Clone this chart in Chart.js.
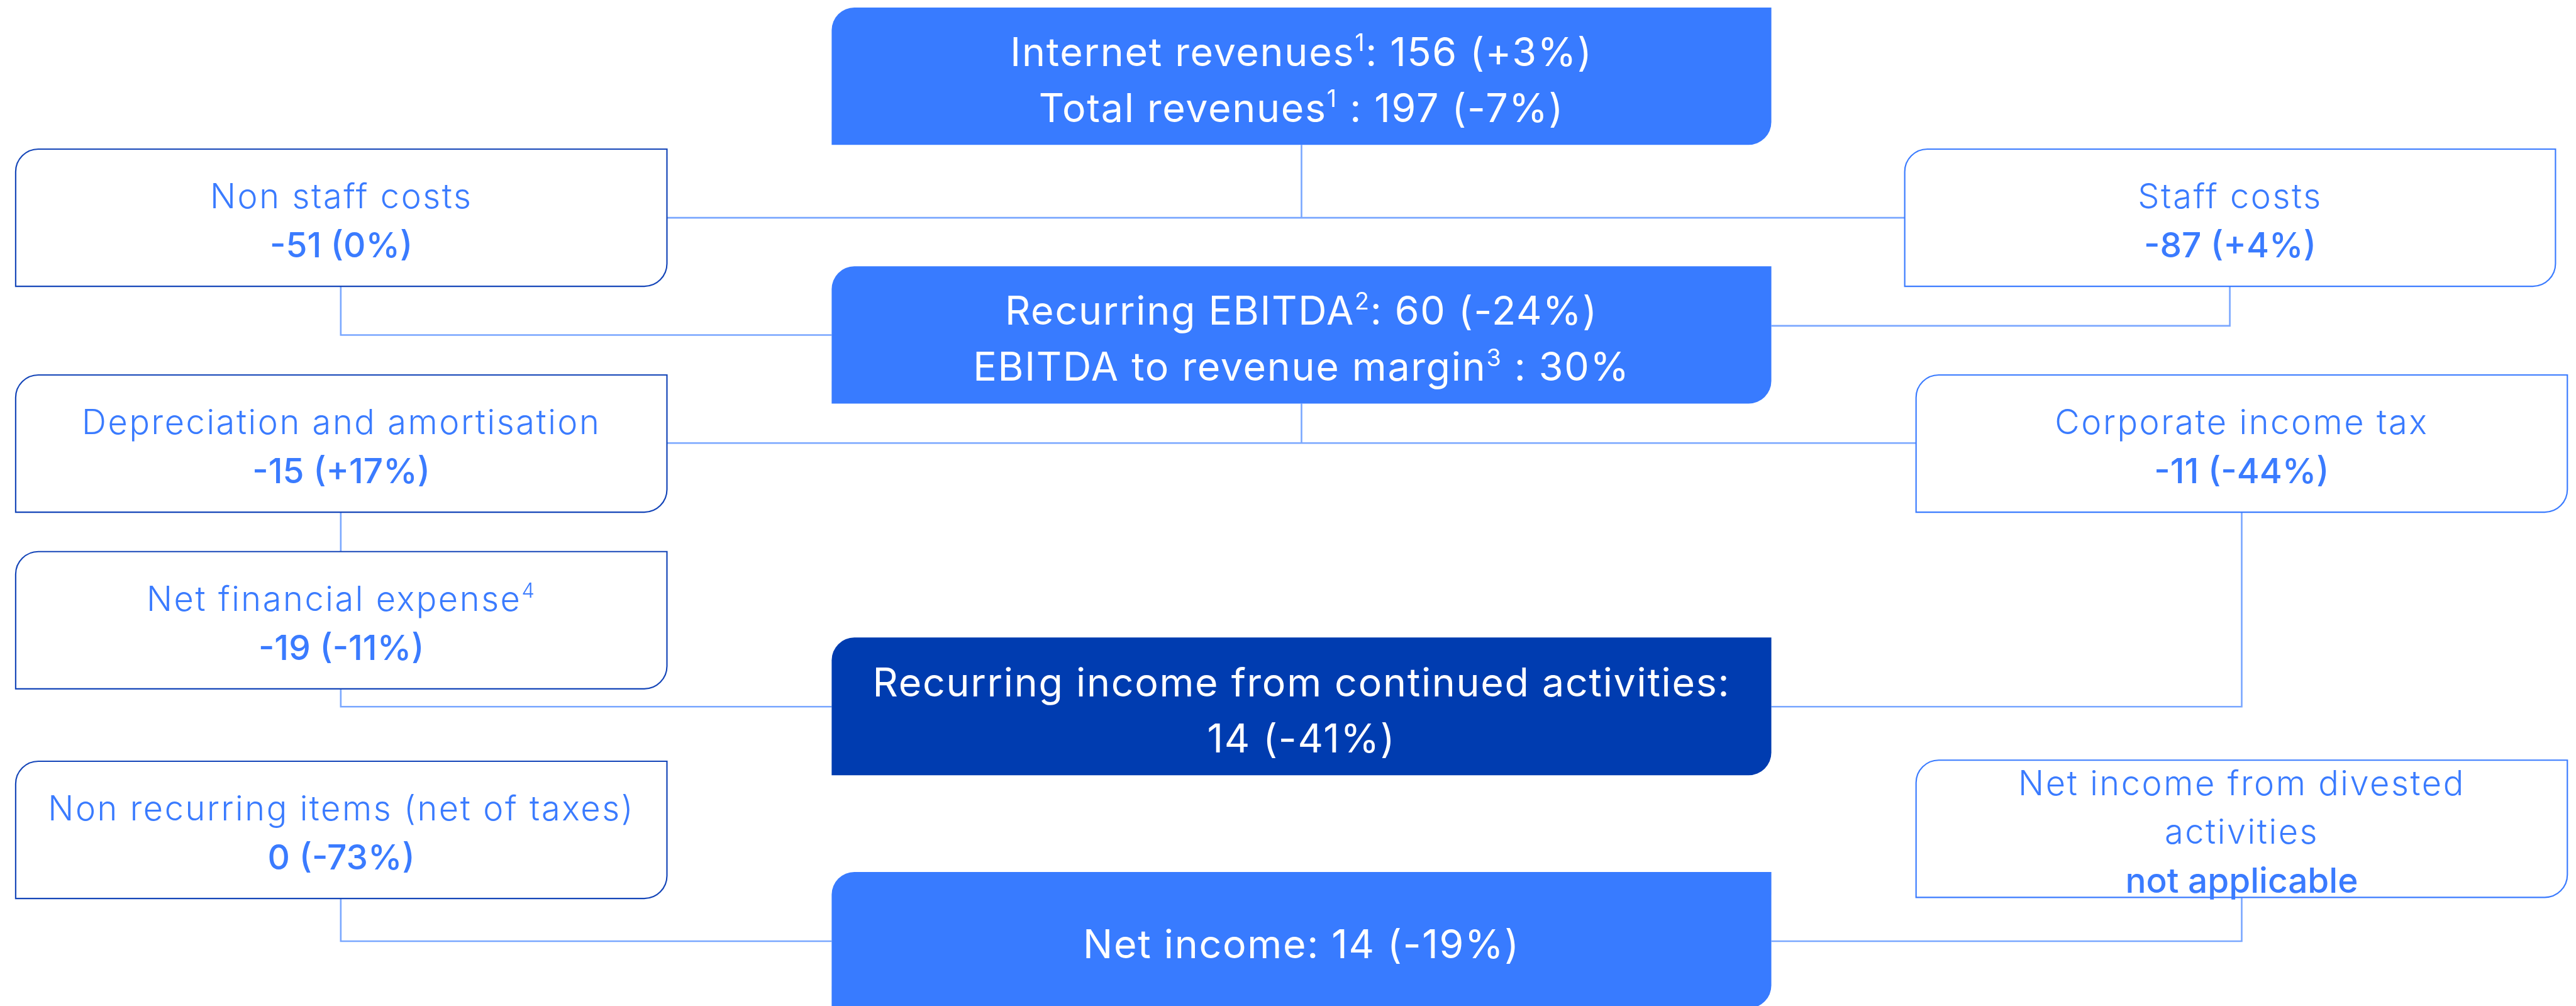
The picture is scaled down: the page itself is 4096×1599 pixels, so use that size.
<html>
<head>
  <title>Income flow</title>
  <script src="https://cdn.jsdelivr.net/npm/chart.js"></script>
  <style>
    body { margin: 0; background: #fff; }
    #wrap { width: 4096px; height: 1599px; position: relative; }
  </style>
</head>
<body>
  <div id="wrap"><canvas id="Chart"></canvas></div>
  <script>
// values (^n = superscript note)
const keyLines = [
  ['Internet revenues^1: 156 (+3%)', 'Total revenues^1 : 197 (-7%)'],
  ['Recurring EBITDA^2: 60 (-24%)', 'EBITDA to revenue margin^3 : 30%'],
  ['Recurring income from continued activities:', '14 (-41%)'],
  ['Net income: 14 (-19%)']
];
const itemLabels = [
  ['Non staff costs'], ['Staff costs'], ['Depreciation and amortisation'],
  ['Corporate income tax'], ['Net financial expense^4'],
  ['Non recurring items (net of taxes)'], ['Net income from divested', 'activities']
];
const itemValues = ['-51 (0%)', '-87 (+4%)', '-15 (+17%)', '-11 (-44%)', '-19 (-11%)', '0 (-73%)', 'not applicable'];

// layout, in reference units (4770 x 1862)
const keyBoxes = [[1540, 14, 3280, 268], [1540, 493, 3280, 747], [1540, 1180, 3280, 1435], [1540, 1614, 3280, 1866]];
const keyFills = ['#387bff', '#387bff', '#003cb0', '#387bff'];
const itemBoxes = [
  [29, 276, 1235, 530], [3527, 276, 4732, 530], [29, 694, 1235, 948], [3548, 694, 4754, 948],
  [29, 1021, 1235, 1275], [29, 1409, 1235, 1663], [3548, 1407, 4754, 1661]
];
const itemBorders = ['#1445b8', '#3a7bff', '#1445b8', '#3a7bff', '#1445b8', '#1445b8', '#3a7bff'];
const links = [
  [[1235, 403], [3527, 403]],
  [[2410, 268], [2410, 403]],
  [[631, 530], [631, 620], [1540, 620]],
  [[4129, 530], [4129, 603], [3280, 603]],
  [[2410, 747], [2410, 820]],
  [[1235, 820], [3548, 820]],
  [[631, 948], [631, 1021]],
  [[631, 1275], [631, 1308], [1540, 1308]],
  [[4151, 948], [4151, 1308], [3280, 1308]],
  [[631, 1663], [631, 1742], [1540, 1742]],
  [[4151, 1661], [4151, 1742], [3280, 1742]]
];

const FONT = 'Inter, "Open Sans", sans-serif';

function drawRich(ctx, text, cx, y, size, weight, color, spacing) {
  const parts = text.split(/\^(\d)/);
  const seg = parts.map((t, i) => ({ t, sup: i % 2 === 1 }));
  ctx.letterSpacing = spacing + 'px';
  let total = 0;
  seg.forEach(s => {
    ctx.font = `${weight} ${s.sup ? size * 0.6 : size}px ${FONT}`;
    s.w = ctx.measureText(s.t).width;
    total += s.w;
  });
  let x = cx - total / 2;
  ctx.fillStyle = color;
  ctx.textAlign = 'left';
  ctx.textBaseline = 'alphabetic';
  seg.forEach(s => {
    ctx.font = `${weight} ${s.sup ? size * 0.6 : size}px ${FONT}`;
    ctx.fillText(s.t, x, s.sup ? y - size * 0.38 : y);
    x += s.w;
  });
  ctx.letterSpacing = '0px';
}

const boxPlugin = {
  id: 'boxes',
  afterDatasetsDraw(chart) {
    const ctx = chart.ctx, xs = chart.scales.x, ys = chart.scales.y;
    const k = chart.chartArea.width / 4770;
    const rect = (b, r) => {
      const x1 = xs.getPixelForValue(b[0]), y1 = ys.getPixelForValue(b[1]);
      const x2 = xs.getPixelForValue(b[2]), y2 = ys.getPixelForValue(b[3]);
      ctx.beginPath();
      ctx.roundRect(x1, y1, x2 - x1, y2 - y1, [r, 0, r, 0]);
      return { cx: (x1 + x2) / 2, cy: (y1 + y2) / 2 };
    };
    ctx.save();
    keyBoxes.forEach((b, i) => {
      const c = rect(b, 42 * k);
      ctx.fillStyle = keyFills[i];
      ctx.fill();
      const lines = keyLines[i], size = 73 * k, lh = 104 * k;
      lines.forEach((t, j) => {
        const y = c.cy + 33 * k + (j - (lines.length - 1) / 2) * lh;
        drawRich(ctx, t, c.cx, y, size, 400, '#fff', 2 * k);
      });
    });
    itemBoxes.forEach((b, i) => {
      const c = rect(b, 42 * k);
      ctx.fillStyle = '#fff';
      ctx.fill();
      ctx.lineWidth = 2.5 * k;
      ctx.strokeStyle = itemBorders[i];
      ctx.stroke();
      const lines = itemLabels[i].map(t => [t, 300, 63, 3]).concat([[itemValues[i], 500, 64, 0]]);
      const lh = (lines.length > 2 ? 90 : 91) * k;
      lines.forEach(([t, w, s, sp], j) => {
        const y = c.cy + 28 * k + (j - (lines.length - 1) / 2) * lh;
        drawRich(ctx, t, c.cx, y, s * k, w, '#3a7bff', sp * k);
      });
    });
    ctx.restore();
  }
};

const data = {
  datasets: links.map(pts => ({
    data: pts.map(p => ({ x: p[0], y: p[1] })),
    showLine: true,
    borderColor: '#7aa7ff',
    borderWidth: 2.6,
    pointRadius: 0,
    fill: false
  }))
};

const chart = new Chart(document.getElementById('Chart'), {
  type: 'scatter',
  data: data,
  options: {
    responsive: true,
    maintainAspectRatio: false,
    animation: false,
    events: [],
    layout: { padding: 0 },
    plugins: { legend: { display: false }, tooltip: { enabled: false } },
    scales: {
      x: { type: 'linear', min: 0, max: 4770, display: false },
      y: { type: 'linear', min: 0, max: 1862, reverse: true, display: false }
    }
  },
  plugins: [boxPlugin]
});
  </script>
</body>
</html>
